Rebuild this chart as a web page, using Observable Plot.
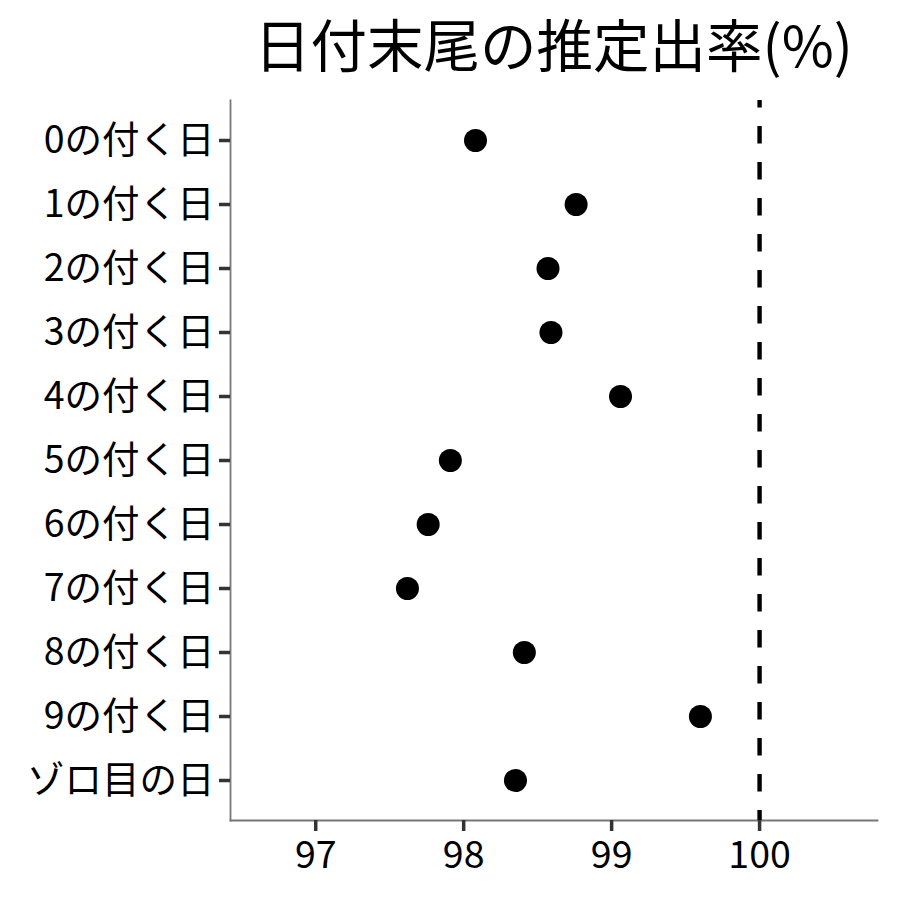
<!DOCTYPE html>
<html><head><meta charset="utf-8">
<script src="https://cdn.jsdelivr.net/npm/d3@7"></script>
<script src="https://cdn.jsdelivr.net/npm/@observablehq/plot@0.6"></script>
<style>
body{margin:0;background:#fff;font-family:"Noto Sans CJK JP";}
#wrap{position:relative;width:900px;height:900px;}
#wrap svg{position:absolute;left:0;top:0;}
#title{position:absolute;left:230px;width:647px;top:1px;text-align:center;font-size:56.5px;line-height:normal;color:#000;z-index:2;white-space:nowrap;}
[aria-label$="axis tick"] path{stroke-width:3.5px;stroke:#333;}
</style></head><body>
<div id="wrap"><div id="title">日付末尾の推定出率(%)</div></div>
<script>
const categories = ["0の付く日","1の付く日","2の付く日","3の付く日","4の付く日","5の付く日","6の付く日","7の付く日","8の付く日","9の付く日","ゾロ目の日"];
const values = [98.08, 98.76, 98.57, 98.59, 99.06, 97.91, 97.76, 97.62, 98.41, 99.60, 98.35];
const refValue = [100];
const xTicks = [97, 98, 99, 100];
const xDomain = [96.424, 100.797];

const data = categories.map((c, i) => ({cat: c, value: values[i]}));

const chart = Plot.plot({
  width: 900,
  height: 900,
  marginTop: 100,
  marginBottom: 80,
  marginLeft: 230,
  marginRight: 23,
  style: {fontFamily: "Noto Sans CJK JP", background: "#fff", color: "#000"},
  x: {domain: xDomain, ticks: xTicks, label: null},
  y: {type: "point", domain: categories, padding: 0.6, label: null},
  marks: [
    Plot.frame({anchor: "left", stroke: "#777", strokeWidth: 1.8}),
    Plot.frame({anchor: "bottom", stroke: "#777", strokeWidth: 1.8}),
    Plot.axisX(xTicks, {tickSize: 11, tickPadding: 10, stroke: "#333", strokeWidth: 3.5, fill: "#000", fontSize: 37.5, tickFormat: d => String(d), label: null}),
    Plot.axisY({tickSize: 11, tickPadding: 5, stroke: "#333", strokeWidth: 3.5, fill: "#000", fontSize: 37.5, label: null}),
    Plot.ruleX(refValue, {stroke: "#000", strokeWidth: 4.4, strokeDasharray: "17.6,18.4", strokeDashoffset: 10}),
    Plot.dot(data, {x: "value", y: "cat", r: 11.5, fill: "#000", stroke: "none"})
  ]
});
document.getElementById("wrap").appendChild(chart);
</script>
</body></html>
